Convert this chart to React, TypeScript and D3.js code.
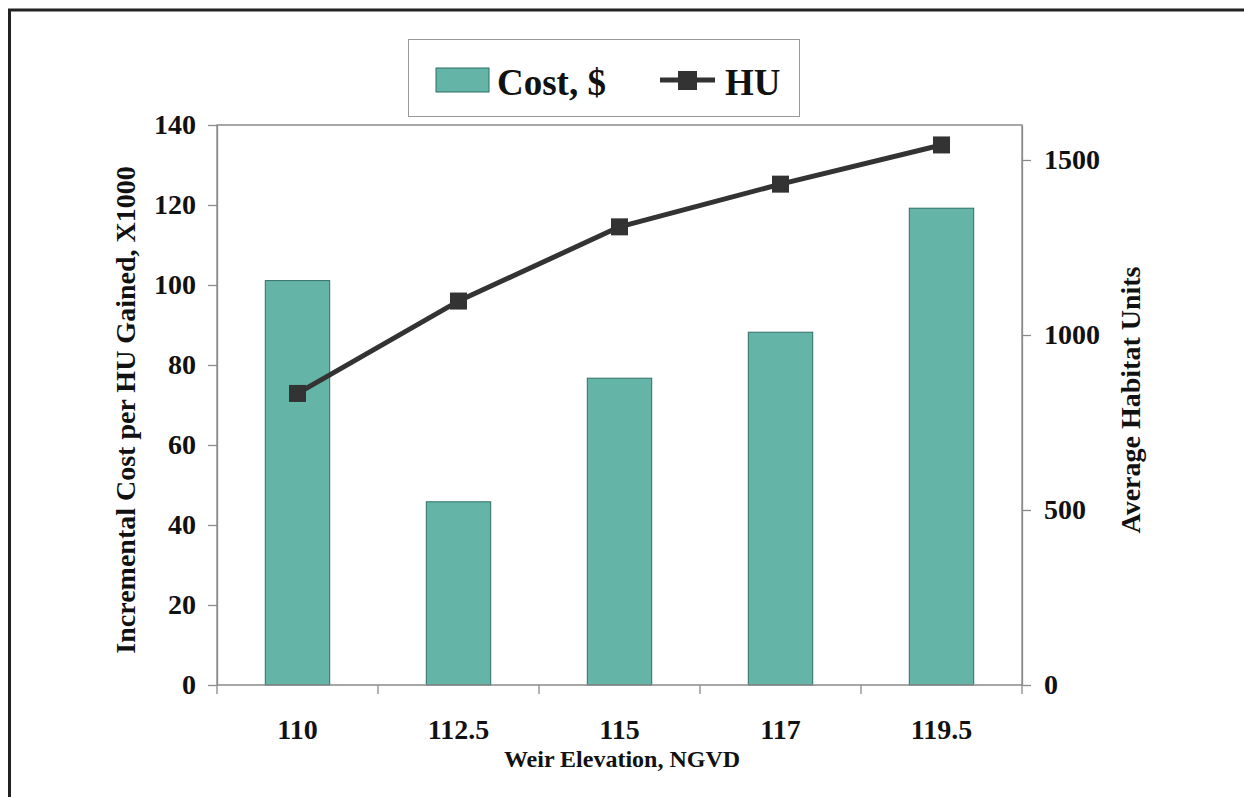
// App.tsx
import React, {useEffect, useRef} from "react";
import * as d3 from "d3";

const categories = ["110", "112.5", "115", "117", "119.5"];
const costValues = [101.1, 45.8, 76.7, 88.2, 119.2];
const huValues = [833, 1097, 1309, 1431, 1543];
const leftTicks = [0, 20, 40, 60, 80, 100, 120, 140];
const rightTicks = [0, 500, 1000, 1500];

const FONT = "'Liberation Serif', 'Times New Roman', serif";
const BAR_FILL = "#64b4a7";
const BAR_STROKE = "#2f6f66";
const LINE_COLOR = "#333333";
const AXIS_COLOR = "#8a8a8a";

const App: React.FC = () => {
    const svgRef = useRef<SVGSVGElement | null>(null);
    const width = 1244;
    const height = 797;

    useEffect(() => {
        if (!svgRef.current) return;
        const svg = d3.select(svgRef.current);
        svg.selectAll("*").remove();

        const plot = {left: 217, right: 1022, top: 125, bottom: 685};

        // outer frame (top + left only)
        svg.append("path")
            .attr("d", `M9.5,${height} L9.5,10 L${width},10`)
            .attr("fill", "none")
            .attr("stroke", "#222")
            .attr("stroke-width", 3);

        const xBar = d3.scaleBand<string>()
            .domain(categories)
            .range([plot.left, plot.right])
            .paddingInner(0.6)
            .paddingOuter(0.3);
        const xOuter = d3.scaleBand<string>()
            .domain(categories)
            .range([plot.left, plot.right])
            .padding(0);

        const yLeft = d3.scaleLinear().domain([0, 140]).range([plot.bottom, plot.top]);
        const yRight = d3.scaleLinear().domain([0, 1600]).range([plot.bottom, plot.top]);

        // plot frame: left, top, right lines
        svg.append("path")
            .attr("d", `M${plot.left},${plot.bottom} L${plot.left},${plot.top} L${plot.right},${plot.top} L${plot.right},${plot.bottom}`)
            .attr("fill", "none")
            .attr("stroke", AXIS_COLOR)
            .attr("stroke-width", 1.3);

        // left axis
        const left = svg.append("g").attr("transform", `translate(${plot.left},0)`)
            .call(d3.axisLeft(yLeft).tickValues(leftTicks).tickSize(9).tickPadding(12).tickSizeOuter(0));
        left.select(".domain").attr("stroke", AXIS_COLOR).attr("stroke-width", 1.3);
        left.selectAll("line").attr("stroke", AXIS_COLOR).attr("stroke-width", 1.3);
        left.selectAll("text")
            .attr("font-family", FONT).attr("font-weight", "bold").attr("font-size", 28).attr("fill", "#111");

        // right axis
        const right = svg.append("g").attr("transform", `translate(${plot.right},0)`)
            .call(d3.axisRight(yRight).tickValues(rightTicks).tickFormat(d3.format("d")).tickSize(9).tickPadding(13).tickSizeOuter(0));
        right.select(".domain").attr("stroke", AXIS_COLOR).attr("stroke-width", 1.3);
        right.selectAll("line").attr("stroke", AXIS_COLOR).attr("stroke-width", 1.3);
        right.selectAll("text")
            .attr("font-family", FONT).attr("font-weight", "bold").attr("font-size", 28).attr("fill", "#111");

        // bars
        svg.append("g")
            .selectAll("rect")
            .data(costValues)
            .enter()
            .append("rect")
            .attr("x", (_d, i) => xBar(categories[i])!)
            .attr("width", xBar.bandwidth())
            .attr("y", (d) => yLeft(d))
            .attr("height", (d) => plot.bottom - yLeft(d))
            .attr("fill", BAR_FILL)
            .attr("stroke", BAR_STROKE)
            .attr("stroke-width", 1);

        // x axis baseline + boundary ticks
        svg.append("line")
            .attr("x1", plot.left).attr("x2", plot.right)
            .attr("y1", plot.bottom).attr("y2", plot.bottom)
            .attr("stroke", AXIS_COLOR).attr("stroke-width", 1.3);
        const boundaries = [...categories.map((c) => xOuter(c)!), plot.right];
        svg.append("g")
            .selectAll("line")
            .data(boundaries)
            .enter()
            .append("line")
            .attr("x1", (d) => d).attr("x2", (d) => d)
            .attr("y1", plot.bottom).attr("y2", plot.bottom + 9)
            .attr("stroke", AXIS_COLOR).attr("stroke-width", 1.3);
        svg.append("g")
            .selectAll("text")
            .data(categories)
            .enter()
            .append("text")
            .attr("x", (d) => xOuter(d)! + xOuter.bandwidth() / 2)
            .attr("y", 739)
            .attr("text-anchor", "middle")
            .attr("font-family", FONT).attr("font-weight", "bold").attr("font-size", 28).attr("fill", "#111")
            .text((d) => d);

        // HU line
        const cx = (i: number) => xOuter(categories[i])! + xOuter.bandwidth() / 2;
        const line = d3.line<number>()
            .x((_d, i) => cx(i))
            .y((d) => yRight(d));
        svg.append("path")
            .datum(huValues)
            .attr("d", line)
            .attr("fill", "none")
            .attr("stroke", LINE_COLOR)
            .attr("stroke-width", 5)
            .attr("stroke-linejoin", "round");
        const m = 17;
        svg.append("g")
            .selectAll("rect")
            .data(huValues)
            .enter()
            .append("rect")
            .attr("x", (_d, i) => cx(i) - m / 2)
            .attr("y", (d) => yRight(d) - m / 2)
            .attr("width", m)
            .attr("height", m)
            .attr("fill", LINE_COLOR);

        // axis titles
        svg.append("text")
            .attr("transform", `translate(135,${(plot.top + plot.bottom) / 2 + 5}) rotate(-90)`)
            .attr("text-anchor", "middle")
            .attr("font-family", FONT).attr("font-weight", "bold").attr("font-size", 28).attr("fill", "#111")
            .text("Incremental Cost per HU Gained, X1000");
        svg.append("text")
            .attr("transform", `translate(1140,400) rotate(-90)`)
            .attr("text-anchor", "middle")
            .attr("font-family", FONT).attr("font-weight", "bold").attr("font-size", 28).attr("fill", "#111")
            .text("Average Habitat Units");
        svg.append("text")
            .attr("x", 622)
            .attr("y", 767)
            .attr("text-anchor", "middle")
            .attr("font-family", FONT).attr("font-weight", "bold").attr("font-size", 24).attr("fill", "#111")
            .text("Weir Elevation, NGVD");

        // legend
        const lg = svg.append("g");
        lg.append("rect")
            .attr("x", 408.5).attr("y", 39.5).attr("width", 391).attr("height", 77)
            .attr("fill", "#fff").attr("stroke", "#999").attr("stroke-width", 1);
        lg.append("rect")
            .attr("x", 436).attr("y", 68).attr("width", 53).attr("height", 24)
            .attr("fill", BAR_FILL).attr("stroke", BAR_STROKE).attr("stroke-width", 1);
        lg.append("text")
            .attr("x", 497).attr("y", 95)
            .attr("font-family", FONT).attr("font-weight", "bold").attr("font-size", 37).attr("fill", "#111")
            .text("Cost, $");
        lg.append("line")
            .attr("x1", 660).attr("x2", 715).attr("y1", 80).attr("y2", 80)
            .attr("stroke", LINE_COLOR).attr("stroke-width", 5);
        lg.append("rect")
            .attr("x", 678).attr("y", 71).attr("width", 19).attr("height", 19)
            .attr("fill", LINE_COLOR);
        lg.append("text")
            .attr("x", 725).attr("y", 95)
            .attr("font-family", FONT).attr("font-weight", "bold").attr("font-size", 37).attr("fill", "#111")
            .text("HU");
    }, []);

    return (
        <svg
            ref={svgRef}
            width={width}
            height={height}
            viewBox={`0 0 ${width} ${height}`}
            style={{position: "absolute", left: 0, top: 0, background: "#fff"}}
        />
    );
};

export default App;
